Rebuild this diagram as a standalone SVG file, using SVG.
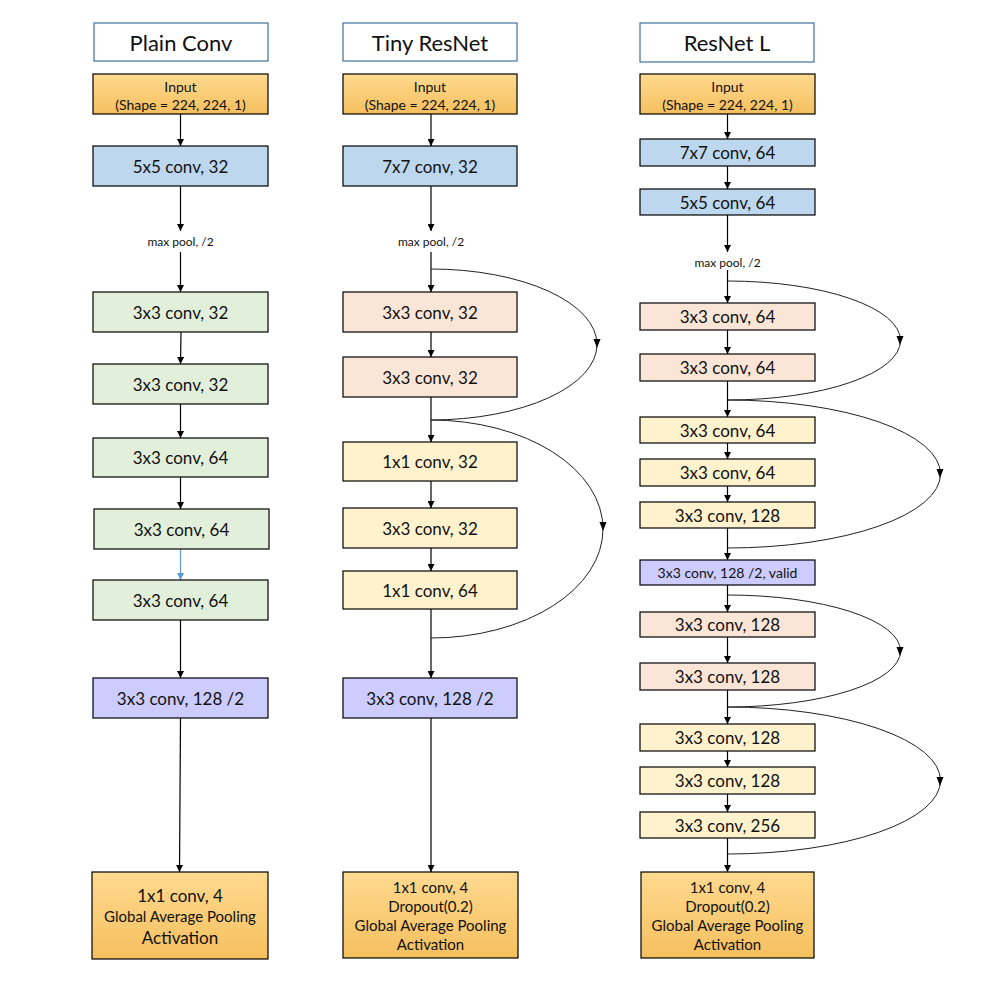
<svg xmlns="http://www.w3.org/2000/svg" width="983" height="983" viewBox="0 0 983 983">
  <defs>
    <linearGradient id="gOrange" x1="0" y1="0" x2="0" y2="1">
      <stop offset="0" stop-color="#ffda90"/>
      <stop offset="1" stop-color="#f5bf5e"/>
    </linearGradient>
    <marker id="ah" viewBox="0 0 10 10" refX="10" refY="5" markerWidth="7" markerHeight="7" markerUnits="userSpaceOnUse" orient="auto">
      <path d="M0,0 L10,5 L0,10 Z" fill="#000"/>
    </marker>
    <marker id="ahBlue" viewBox="0 0 10 10" refX="10" refY="5" markerWidth="7" markerHeight="7" markerUnits="userSpaceOnUse" orient="auto">
      <path d="M0,0 L10,5 L0,10 Z" fill="#5b9bd5"/>
    </marker>
    <style>
      rect { stroke: #000; stroke-width: 1.2; }
      .hdr { fill: #fff; stroke: #41719c; stroke-width: 1.2; }
      .inp { fill: url(#gOrange); }
      .blue { fill: #bdd7ee; }
      .green { fill: #e2efda; }
      .peach { fill: #fbe5d6; }
      .yellow { fill: #fff2cc; }
      .purple { fill: #ccccff; }
      text { font-family: Lato, "Open Sans", "Liberation Sans", sans-serif; fill: #111; text-anchor: middle; dominant-baseline: central; }
      .h { font-size: 22px; }
      .t16 { font-size: 17px; }
      .t14 { font-size: 15px; }
      .t13 { font-size: 14px; }
      .t11 { font-size: 12px; }
      .arr { stroke: #000; stroke-width: 1.2; fill: none; marker-end: url(#ah); }
      .skip { stroke: #222; stroke-width: 1; fill: none; }
      .tip { fill: #000; }
    </style>
  </defs>

  <!-- ===== Connectors ===== -->
  <g id="connectors">
    <!-- Plain Conv -->
    <path class="arr" d="M180.5,114 V146"/>
    <path class="arr" d="M180.5,186 V231"/>
    <path class="arr" d="M180.5,252 V292"/>
    <path class="arr" d="M181,332 L180.5,364"/>
    <path class="arr" d="M180.5,404 V438"/>
    <path class="arr" d="M180.5,477 V509"/>
    <path d="M180.5,549 V580" stroke="#5b9bd5" stroke-width="1.2" fill="none" marker-end="url(#ahBlue)"/>
    <path class="arr" d="M180.5,620 V678"/>
    <path class="arr" d="M180.5,718 L179.5,872"/>

    <!-- Tiny ResNet -->
    <path class="arr" d="M431,114 V146"/>
    <path class="arr" d="M431,186 V231"/>
    <path class="arr" d="M431,252 V292"/>
    <path class="arr" d="M431,332 V357"/>
    <path class="arr" d="M431,397 V442"/>
    <path class="arr" d="M431,481 V508"/>
    <path class="arr" d="M431,548 V571"/>
    <path class="arr" d="M431,609 V678"/>
    <path class="arr" d="M431,718 V872"/>
    <path class="skip" d="M431,269 A166,75.5 0 0 1 431,420"/>
    <path class="tip" d="M593.5,339 L600.5,339 L597,348 Z"/>
    <path class="skip" d="M431,420 A172,109 0 0 1 431,638"/>
    <path class="tip" d="M599.5,522 L606.5,522 L603,531 Z"/>

    <!-- ResNet L -->
    <path class="arr" d="M727.5,114 V139"/>
    <path class="arr" d="M727.5,166 V189"/>
    <path class="arr" d="M727.5,215 V252"/>
    <path class="arr" d="M727.5,270 V303"/>
    <path class="arr" d="M727.5,330 V354"/>
    <path class="arr" d="M727.5,381 V417"/>
    <path class="arr" d="M727.5,443 V459"/>
    <path class="arr" d="M727.5,486 V502"/>
    <path class="arr" d="M727.5,528 V560"/>
    <path class="arr" d="M727.5,585 V612"/>
    <path class="arr" d="M727.5,637 V663"/>
    <path class="arr" d="M727.5,690 V724"/>
    <path class="arr" d="M727.5,751 V767"/>
    <path class="arr" d="M727.5,794 V812"/>
    <path class="arr" d="M727.5,838 V872"/>
    <path class="skip" d="M727.5,281 A173,59.5 0 0 1 727.5,400"/>
    <path class="tip" d="M896.5,336 L903.5,336 L900,345 Z"/>
    <path class="skip" d="M727.5,400 A213,74 0 0 1 727.5,548"/>
    <path class="tip" d="M936.5,469 L943.5,469 L940,478 Z"/>
    <path class="skip" d="M727.5,595 A173,56 0 0 1 727.5,707"/>
    <path class="tip" d="M896.5,647 L903.5,647 L900,656 Z"/>
    <path class="skip" d="M727.5,707 A213,73.5 0 0 1 727.5,854"/>
    <path class="tip" d="M936.5,777 L943.5,777 L940,786 Z"/>
  </g>

  <!-- ===== Plain Conv ===== -->
  <g id="pc-title"><rect class="hdr" x="94" y="23" width="174" height="38"/><text class="h" x="181" y="42">Plain Conv</text></g>
  <g id="pc-input"><rect class="inp" x="93" y="74" width="175" height="40"/><text class="t13" x="180.5" y="86">Input</text><text class="t13" x="180.5" y="104">(Shape = 224, 224, 1)</text></g>
  <g id="pc-conv1"><rect class="blue" x="93" y="146" width="175" height="40"/><text class="t16" x="180.5" y="166">5x5 conv, 32</text></g>
  <g id="pc-pool"><text class="t11" x="180.5" y="241">max pool,  /2</text></g>
  <g id="pc-conv2"><rect class="green" x="93" y="292" width="175" height="40"/><text class="t16" x="180.5" y="312">3x3 conv, 32</text></g>
  <g id="pc-conv3"><rect class="green" x="93" y="364" width="175" height="40"/><text class="t16" x="180.5" y="384">3x3 conv, 32</text></g>
  <g id="pc-conv4"><rect class="green" x="93" y="438" width="175" height="39"/><text class="t16" x="180.5" y="457.5">3x3 conv, 64</text></g>
  <g id="pc-conv5"><rect class="green" x="94" y="509" width="175" height="40"/><text class="t16" x="181.5" y="529">3x3 conv, 64</text></g>
  <g id="pc-conv6"><rect class="green" x="93" y="580" width="175" height="40"/><text class="t16" x="180.5" y="600">3x3 conv, 64</text></g>
  <g id="pc-conv7"><rect class="purple" x="93" y="678" width="175" height="40"/><text class="t16" x="180.5" y="698">3x3 conv, 128 /2</text></g>
  <g id="pc-out"><rect class="inp" x="92" y="872" width="176" height="87"/><text class="t16" x="180" y="895">1x1 conv, 4</text><text class="t14" x="180" y="916">Global Average Pooling</text><text class="t16" x="180" y="937">Activation</text></g>

  <!-- ===== Tiny ResNet ===== -->
  <g id="tr-title"><rect class="hdr" x="343" y="23" width="174" height="38"/><text class="h" x="430" y="42">Tiny ResNet</text></g>
  <g id="tr-input"><rect class="inp" x="343" y="74" width="174" height="40"/><text class="t13" x="430" y="86">Input</text><text class="t13" x="430" y="104">(Shape = 224, 224, 1)</text></g>
  <g id="tr-conv1"><rect class="blue" x="343" y="146" width="174" height="40"/><text class="t16" x="430" y="166">7x7 conv, 32</text></g>
  <g id="tr-pool"><text class="t11" x="431" y="241">max pool,  /2</text></g>
  <g id="tr-conv2"><rect class="peach" x="343" y="292" width="174" height="40"/><text class="t16" x="430" y="312">3x3 conv, 32</text></g>
  <g id="tr-conv3"><rect class="peach" x="343" y="357" width="174" height="40"/><text class="t16" x="430" y="377">3x3 conv, 32</text></g>
  <g id="tr-conv4"><rect class="yellow" x="343" y="442" width="174" height="39"/><text class="t16" x="430" y="461.5">1x1 conv, 32</text></g>
  <g id="tr-conv5"><rect class="yellow" x="343" y="508" width="174" height="40"/><text class="t16" x="430" y="528">3x3 conv, 32</text></g>
  <g id="tr-conv6"><rect class="yellow" x="343" y="571" width="174" height="38"/><text class="t16" x="430" y="590">1x1 conv, 64</text></g>
  <g id="tr-conv7"><rect class="purple" x="343" y="678" width="174" height="40"/><text class="t16" x="430" y="698">3x3 conv, 128 /2</text></g>
  <g id="tr-out"><rect class="inp" x="343" y="872" width="175" height="86"/><text class="t14" x="430.5" y="887">1x1 conv, 4</text><text class="t14" x="430.5" y="906">Dropout(0.2)</text><text class="t14" x="430.5" y="925">Global Average Pooling</text><text class="t14" x="430.5" y="944">Activation</text></g>

  <!-- ===== ResNet L ===== -->
  <g id="rl-title"><rect class="hdr" x="640" y="23" width="174" height="39"/><text class="h" x="727" y="42.5">ResNet L</text></g>
  <g id="rl-input"><rect class="inp" x="640" y="74" width="175" height="40"/><text class="t13" x="727.5" y="86">Input</text><text class="t13" x="727.5" y="104">(Shape = 224, 224, 1)</text></g>
  <g id="rl-conv1"><rect class="blue" x="640" y="139" width="175" height="27"/><text class="t16" x="727.5" y="152.5">7x7 conv, 64</text></g>
  <g id="rl-conv2"><rect class="blue" x="640" y="189" width="175" height="26"/><text class="t16" x="727.5" y="202">5x5 conv, 64</text></g>
  <g id="rl-pool"><text class="t11" x="727.5" y="262">max pool,  /2</text></g>
  <g id="rl-conv3"><rect class="peach" x="640" y="303" width="175" height="27"/><text class="t16" x="727.5" y="316.5">3x3 conv, 64</text></g>
  <g id="rl-conv4"><rect class="peach" x="640" y="354" width="175" height="27"/><text class="t16" x="727.5" y="367.5">3x3 conv, 64</text></g>
  <g id="rl-conv5"><rect class="yellow" x="640" y="417" width="175" height="26"/><text class="t16" x="727.5" y="430">3x3 conv, 64</text></g>
  <g id="rl-conv6"><rect class="yellow" x="640" y="459" width="175" height="27"/><text class="t16" x="727.5" y="472.5">3x3 conv, 64</text></g>
  <g id="rl-conv7"><rect class="yellow" x="640" y="502" width="175" height="26"/><text class="t16" x="727.5" y="515">3x3 conv, 128</text></g>
  <g id="rl-conv8"><rect class="purple" x="640" y="560" width="175" height="25"/><text class="t13" x="727.5" y="572.5">3x3 conv, 128 /2, valid</text></g>
  <g id="rl-conv9"><rect class="peach" x="640" y="612" width="175" height="25"/><text class="t16" x="727.5" y="624.5">3x3 conv, 128</text></g>
  <g id="rl-conv10"><rect class="peach" x="640" y="663" width="175" height="27"/><text class="t16" x="727.5" y="676.5">3x3 conv, 128</text></g>
  <g id="rl-conv11"><rect class="yellow" x="640" y="724" width="175" height="27"/><text class="t16" x="727.5" y="737.5">3x3 conv, 128</text></g>
  <g id="rl-conv12"><rect class="yellow" x="640" y="767" width="175" height="27"/><text class="t16" x="727.5" y="780.5">3x3 conv, 128</text></g>
  <g id="rl-conv13"><rect class="yellow" x="640" y="812" width="175" height="26"/><text class="t16" x="727.5" y="825">3x3 conv, 256</text></g>
  <g id="rl-out"><rect class="inp" x="641" y="872" width="173" height="86"/><text class="t14" x="727.5" y="887">1x1 conv, 4</text><text class="t14" x="727.5" y="906">Dropout(0.2)</text><text class="t14" x="727.5" y="925">Global Average Pooling</text><text class="t14" x="727.5" y="944">Activation</text></g>
</svg>
